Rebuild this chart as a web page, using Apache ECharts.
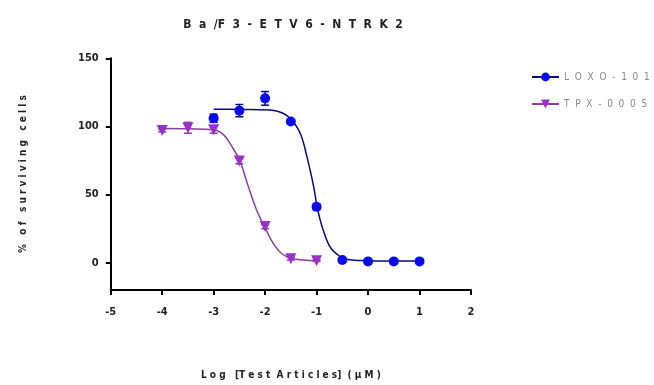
<!DOCTYPE html>
<html>
<head>
<meta charset="utf-8">
<script src="https://cdn.jsdelivr.net/npm/echarts@6/dist/echarts.min.js"></script>
<style>
  html, body { margin: 0; padding: 0; background: #fff; }
  #main { width: 654px; height: 385px; }
</style>
</head>
<body>
<div id="main"></div>
<script>
// measured points (log conc, % surviving, error)
var loxoX = [-3, -2.5, -2, -1.5, -1, -0.5, 0, 0.5, 1];
var loxoY = [106, 111.6, 120.6, 103.6, 41, 2, 1, 1, 1];
var loxoErr = [3, 4.5, 5, 1.5, 2, 1, 0.5, 0.5, 0.5];

var tpxX = [-4, -3.5, -3, -2.5, -2, -1.5, -1];
var tpxY = [97, 99, 97.6, 74.6, 26.5, 3, 1.5];
var tpxErr = [1, 4, 2.5, 2, 1.5, 1, 0.5];

// fitted curves
var loxoCurveX = [-3, -2.5, -1.9, -1.65, -1.49, -1.32, -1.19, -1.06, -0.99, -0.9, -0.74, -0.58, -0.42, 0, 0.5, 1];
var loxoCurveY = [112.6, 112.5, 112.1, 109.7, 104.9, 95.2, 78.2, 56.4, 41.1, 27.3, 11.6, 5.5, 2.6, 1.5, 1.3, 1.2];

var tpxCurveX = [-4, -3.5, -3, -2.81, -2.65, -2.49, -2.33, -2.16, -2, -1.84, -1.68, -1.48, -1.25, -1];
var tpxCurveY = [98.5, 98.3, 97.6, 94, 85.5, 74.6, 56.4, 38.2, 25.7, 14, 6.8, 3.1, 2, 1.4];

var yTicks = [0, 50, 100, 150];

var titleText = 'B  a  /F  3  -  E  T  V  6  -  N  T  R  K  2';
var xName = 'L o g   [T e s t  A r t i c l e s]  ( µ M )';
var yName = '%   o f   s u r v i v i n g   c e l l s';
var names = ['L  O  X  O  -  1  0  1', 'T  P  X  -  0  0  0  5'];

var blue = '#0a0af0';
var navy = '#0a0a80';
var purple = '#9b30c8';
var purpleLine = '#8a3f9e';
var font = "'Liberation Sans Narrow', 'DejaVu Sans Condensed', 'Liberation Sans', sans-serif";

function zip(xs, ys) {
  return xs.map(function (x, i) { return [x, ys[i]]; });
}

function errData(xs, ys, es) {
  return xs.map(function (x, i) { return [x, ys[i] - es[i], ys[i] + es[i]]; });
}

function errRender(color) {
  return function (params, api) {
    var lo = api.coord([api.value(0), api.value(1)]);
    var hi = api.coord([api.value(0), api.value(2)]);
    var w = 4;
    var st = { stroke: color, lineWidth: 1.5 };
    return {
      type: 'group',
      children: [
        { type: 'line', shape: { x1: lo[0], y1: lo[1], x2: hi[0], y2: hi[1] }, style: st },
        { type: 'line', shape: { x1: lo[0] - w, y1: lo[1], x2: lo[0] + w, y2: lo[1] }, style: st },
        { type: 'line', shape: { x1: hi[0] - w, y1: hi[1], x2: hi[0] + w, y2: hi[1] }, style: st }
      ]
    };
  };
}

var chart = echarts.init(document.getElementById('main'));

var option = {
  animation: false,
  title: {
    text: titleText,
    left: 288,
    textAlign: 'center',
    top: 14,
    textStyle: { fontFamily: font, fontSize: 12, fontWeight: 'bold', color: '#222' }
  },
  legend: {
    orient: 'vertical',
    left: 526,
    top: 67,
    itemWidth: 27,
    itemHeight: 11,
    itemGap: 17,
    data: names,
    textStyle: { fontFamily: font, fontSize: 10, color: '#888' }
  },
  grid: { left: 110.7, right: 183, top: 58.3, bottom: 91.7 },
  xAxis: {
    type: 'value',
    min: -5,
    max: 2,
    interval: 1,
    name: xName,
    nameLocation: 'middle',
    nameGap: 80,
    nameTextStyle: { fontFamily: font, fontSize: 10, fontWeight: 'bold', color: '#222' },
    axisLine: { onZero: false, lineStyle: { color: '#000', width: 2 } },
    axisTick: { length: 5, lineStyle: { color: '#000', width: 2 } },
    axisLabel: { fontFamily: font, fontSize: 11, fontWeight: 'bold', color: '#222', margin: 17 },
    splitLine: { show: false }
  },
  yAxis: {
    type: 'value',
    min: -20,
    max: 150,
    name: yName,
    nameLocation: 'middle',
    nameGap: 82,
    nameTextStyle: { fontFamily: font, fontSize: 10, fontWeight: 'bold', color: '#222' },
    axisLine: { onZero: false, lineStyle: { color: '#000', width: 2 } },
    axisTick: { length: 5, customValues: yTicks, lineStyle: { color: '#000', width: 2 } },
    axisLabel: { customValues: yTicks, fontFamily: font, fontSize: 11, fontWeight: 'bold', color: '#222', margin: 12 },
    splitLine: { show: false }
  },
  series: [
    {
      name: names[0],
      type: 'line',
      smooth: 0.4,
      data: zip(loxoCurveX, loxoCurveY),
      symbol: 'circle',
      symbolSize: 11,
      showSymbol: false,
      itemStyle: { color: blue },
      lineStyle: { color: navy, width: 1.5 },
      z: 2
    },
    {
      name: names[1],
      type: 'line',
      smooth: 0.4,
      data: zip(tpxCurveX, tpxCurveY),
      symbol: 'triangle',
      symbolRotate: 180,
      symbolSize: 11,
      showSymbol: false,
      itemStyle: { color: purple },
      lineStyle: { color: purpleLine, width: 1.5 },
      z: 2
    },
    {
      type: 'custom',
      data: errData(loxoX, loxoY, loxoErr),
      renderItem: errRender(navy),
      z: 3
    },
    {
      type: 'custom',
      data: errData(tpxX, tpxY, tpxErr),
      renderItem: errRender(purpleLine),
      z: 3
    },
    {
      type: 'scatter',
      data: zip(loxoX, loxoY),
      symbol: 'circle',
      symbolSize: 10,
      itemStyle: { color: blue, opacity: 1 },
      z: 4
    },
    {
      type: 'scatter',
      data: zip(tpxX, tpxY),
      symbol: 'triangle',
      symbolRotate: 180,
      symbolSize: 11,
      itemStyle: { color: purple, opacity: 1 },
      z: 4
    }
  ]
};

chart.setOption(option);
</script>
</body>
</html>
